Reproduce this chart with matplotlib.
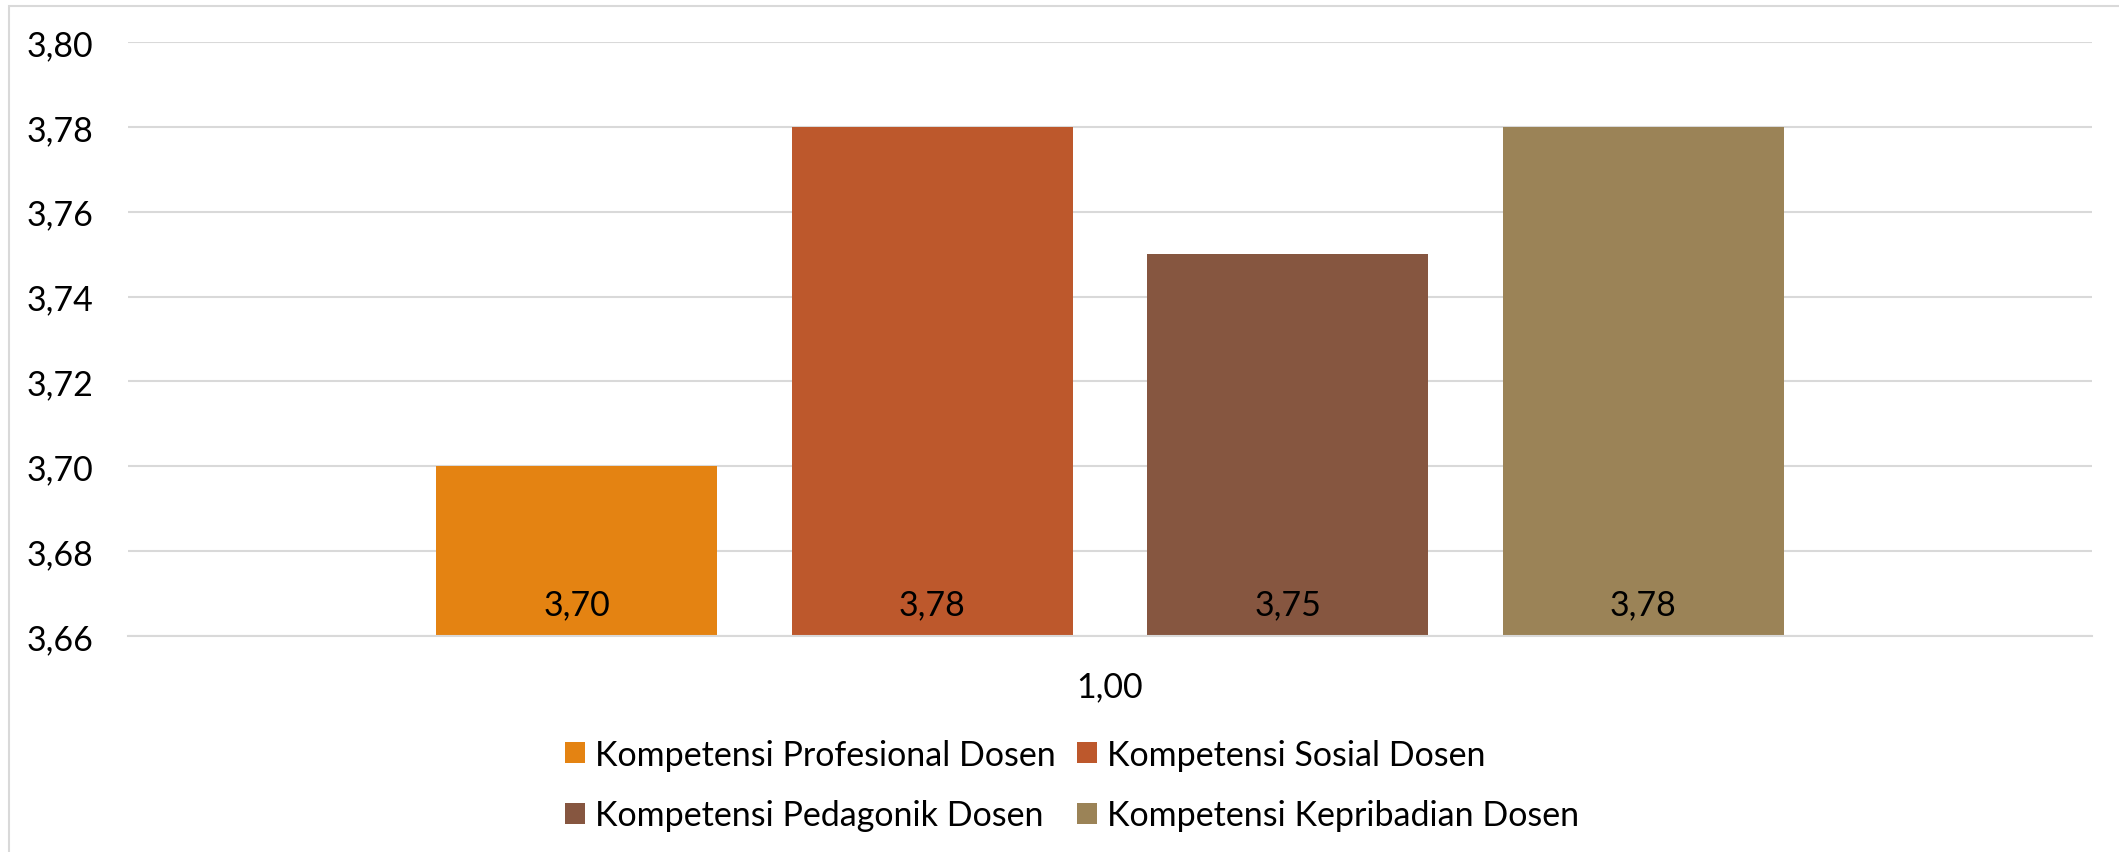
import matplotlib.pyplot as plt
from matplotlib.patches import Rectangle

# data
series = ["Kompetensi Profesional Dosen", "Kompetensi Sosial Dosen",
          "Kompetensi Pedagonik Dosen", "Kompetensi Kepribadian Dosen"]
values = [3.70, 3.78, 3.75, 3.78]
colors = ["#E48312", "#BD582C", "#865640", "#9B8357"]
category = "1,00"
yticks = [3.66, 3.68, 3.70, 3.72, 3.74, 3.76, 3.78, 3.80]

plt.rcParams['font.family'] = ['Lato', 'DejaVu Sans']
fs = 24.5

W, H = 2119, 853
fig = plt.figure(figsize=(W / 100, H / 100), dpi=100)
ax = fig.add_axes([128 / W, (H - 637) / H, (2092 - 128) / W, (637 - 43) / H])

# outer chart border
fig.patches.append(Rectangle((9 / W, -0.1), 1.2, (H - 7) / H + 0.1, transform=fig.transFigure,
                             fill=False, edgecolor="#d9d9d9", linewidth=1.5))

bar_w = 0.143
step = 0.181
offsets = [(i - 1.5) * step for i in range(len(values))]
handles = []
for off, v, c, name in zip(offsets, values, colors, series):
    b = ax.bar(off, v - 3.66, bottom=3.66, width=bar_w, color=c, label=name, zorder=3)
    handles.append(b)
    ax.annotate(f"{v:.2f}".replace(".", ","), (off, 3.66), xytext=(0, 32),
                textcoords="offset pixels", ha="center", va="center",
                fontsize=fs, color="black", zorder=4)

ax.set_xlim(-0.5, 0.5)
ax.set_ylim(3.66, 3.80)
ax.set_yticks(yticks)
ax.set_yticklabels([f"{t:.2f}".replace(".", ",") for t in yticks], fontsize=fs)
ax.set_xticks([0])
ax.set_xticklabels([category], fontsize=fs)
ax.tick_params(axis="y", length=0, pad=25)
ax.tick_params(axis="x", length=0, pad=25)
ax.grid(axis="y", color="#d9d9d9", linewidth=1.5, zorder=0)
for s in ["top", "right", "left"]:
    ax.spines[s].set_visible(False)
ax.spines["bottom"].set_color("#d9d9d9")
ax.spines["bottom"].set_linewidth(1.5)
ax.spines["bottom"].set_zorder(5)

# row-wise legend order like the original
order = [0, 2, 1, 3]
fig.legend([handles[i] for i in order], [series[i] for i in order],
           loc="center", bbox_to_anchor=(1072 / W, (H - 786) / H), ncol=2,
           frameon=False, fontsize=fs, handlelength=0.6, handleheight=0.6,
           handletextpad=0.3, columnspacing=0.6, labelspacing=0.85)

fig.savefig("out.png", dpi=100)
